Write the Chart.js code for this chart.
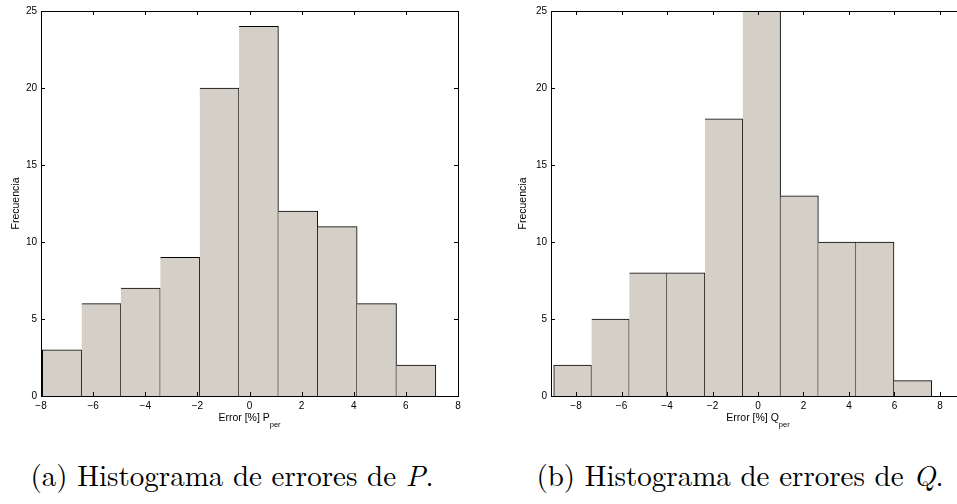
<!DOCTYPE html>
<html>
<head>
<meta charset="utf-8">
<script src="https://cdn.jsdelivr.net/npm/chart.js@4/dist/chart.umd.min.js"></script>
<style>
  html, body { margin: 0; padding: 0; background: #fff; overflow: hidden; width: 957px; height: 504px; }
  .box { position: absolute; top: 0; }
  .xtitle { position: absolute; font-family: "Liberation Sans", Arial, sans-serif; font-size: 10.5px; line-height: 12px; white-space: nowrap; transform: translateX(-50%); color: #000; }
  .xtitle sub { font-size: 7.5px; vertical-align: -6px; line-height: 0; }
  .caption { position: absolute; width: 520px; text-align: center; font-family: "Latin Modern Roman", "CMU Serif", "Liberation Serif", serif; font-size: 29px; line-height: 30px; color: #000; white-space: nowrap; }
</style>
</head>
<body>
<div class="box" style="left:0;width:480px;height:430px"><canvas id="histP" width="480" height="430"></canvas></div>
<div class="box" style="left:480px;width:500px;height:430px"><canvas id="histQ" width="500" height="430"></canvas></div>
<div class="xtitle" style="left:249.5px;top:411px">Error [%] P<sub>per</sub></div>
<div class="xtitle" style="left:758px;top:411px">Error [%] Q<sub>per</sub></div>
<div class="caption" style="left:-28px;top:459px">(a) Histograma de errores de <i>P</i>.</div>
<div class="caption" style="left:480px;top:459px">(b) Histograma de errores de <i>Q</i>.</div>
<script>
// bin centres and counts
const binsP = [-7.195, -5.685, -4.175, -2.665, -1.155, 0.355, 1.865, 3.375, 4.885, 6.395];
const countsP = [3, 6, 7, 9, 20, 24, 12, 11, 6, 2];
const binsQ = [-8.149, -6.487, -4.825, -3.163, -1.501, 0.161, 1.823, 3.485, 5.147, 6.809];
const countsQ = [2, 5, 8, 8, 18, 25, 13, 10, 10, 1];

const xTicks = [-8, -6, -4, -2, 0, 2, 4, 6, 8];
const yTicks = [0, 5, 10, 15, 20, 25];

const barFill = "#d4d0c8";

// matlab style box with inward ticks
const tickMarks = {
  id: "tickMarks",
  afterDatasetsDraw(chart) {
    const { ctx, chartArea: a, scales: { x, y } } = chart;
    const len = 4;
    ctx.save();
    ctx.strokeStyle = "#000";
    ctx.lineWidth = 1;
    ctx.beginPath();
    x.ticks.forEach(t => {
      const px = Math.round(x.getPixelForValue(t.value)) + 0.5;
      ctx.moveTo(px, a.bottom);
      ctx.lineTo(px, a.bottom - len);
      ctx.moveTo(px, a.top);
      ctx.lineTo(px, a.top + len);
    });
    y.ticks.forEach(t => {
      const py = Math.round(y.getPixelForValue(t.value)) + 0.5;
      ctx.moveTo(a.left, py);
      ctx.lineTo(a.left + len, py);
      ctx.moveTo(a.right, py);
      ctx.lineTo(a.right - len, py);
    });
    ctx.stroke();
    ctx.strokeRect(a.left + 0.5, a.top + 0.5, a.right - a.left, a.bottom - a.top);
    ctx.restore();
  }
};

function minus(v) {
  return v < 0 ? "\u2212" + Math.abs(v) : String(v);
}

function makeHist(id, bins, counts, xMin, xMax, yWidth, rightPad, titlePad) {
  const tickFont = { family: "'Liberation Sans', Arial, sans-serif", size: 10 };
  return new Chart(document.getElementById(id), {
    type: "bar",
    data: {
      datasets: [{
        data: bins.map((b, i) => ({ x: b, y: counts[i] })),
        backgroundColor: barFill,
        borderColor: "#000",
        borderWidth: ctx => ({ top: 1, right: 1, bottom: 0, left: ctx.dataIndex === 0 ? 1 : 0 }),
        borderSkipped: false,
        barPercentage: 1,
        categoryPercentage: 1
      }]
    },
    options: {
      responsive: false,
      animation: false,
      events: [],
      layout: { padding: { top: 11, right: rightPad, left: 0, bottom: 0 } },
      plugins: { legend: { display: false }, tooltip: { enabled: false } },
      scales: {
        x: {
          type: "linear",
          offset: false,
          min: xMin,
          max: xMax,
          afterBuildTicks: s => { s.ticks = xTicks.map(v => ({ value: v })); },
          afterFit: s => { s.height = 34; },
          grid: { display: false, drawTicks: false },
          border: { display: false },
          ticks: { color: "#000", font: tickFont, padding: 4, maxRotation: 0, autoSkip: false, callback: v => minus(v) }
        },
        y: {
          min: 0,
          max: 25,
          afterBuildTicks: s => { s.ticks = yTicks.map(v => ({ value: v })); },
          afterFit: s => { s.width = yWidth; },
          grid: { display: false, drawTicks: false },
          border: { display: false },
          ticks: { color: "#000", font: tickFont, padding: 4, callback: v => minus(v) },
          title: {
            display: true,
            text: "Frecuencia",
            color: "#000",
            font: { family: "'Liberation Sans', Arial, sans-serif", size: 10.5 },
            padding: { top: titlePad, bottom: 0 }
          }
        }
      }
    },
    plugins: [tickMarks]
  });
}

makeHist("histP", binsP, countsP, -8, 8, 41, 22, 9.7);
makeHist("histQ", binsQ, countsQ, -9.1, 9.1, 71, 15, 36.7);
</script>
</body>
</html>
